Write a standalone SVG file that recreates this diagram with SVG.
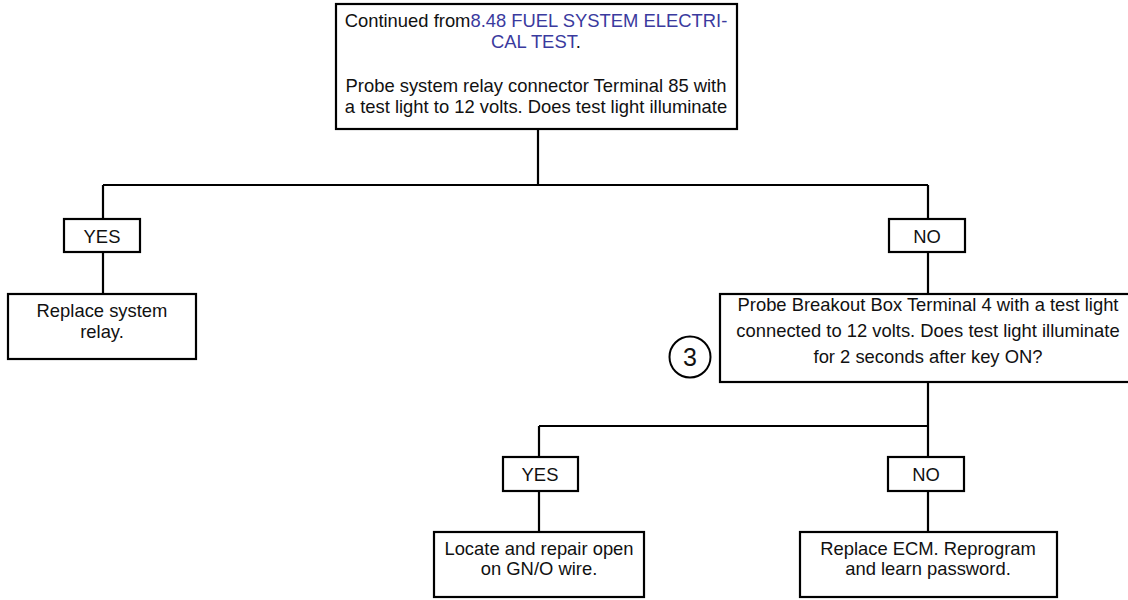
<svg xmlns="http://www.w3.org/2000/svg" width="1128" height="600" viewBox="0 0 1128 600">
  <style>
    .box { fill: #ffffff; stroke: #000000; stroke-width: 2.2; }
    .wire { fill: none; stroke: #000000; stroke-width: 2.2; }
    text { font-family: "Liberation Sans", Arial, Helvetica, sans-serif; font-size: 18.4px; fill: #111111; text-anchor: middle; }
    .link { fill: #3a3a9e; }
    .num { font-size: 25px; }
  </style>
  <rect width="1128" height="600" fill="#ffffff"/>

  <!-- connectors -->
  <g id="connectors">
    <path class="wire" d="M538 129 V185 M103 185 H928 M103 185 V219 M103 252 V294 M928 185 V219 M928 252 V294"/>
    <path class="wire" d="M928 382 V426 M539 426 H928 M539 426 V457 M539 491 V532 M928 426 V457 M928 491 V532"/>
  </g>

  <!-- start: relay terminal 85 check -->
  <g id="node-start">
    <rect class="box" x="336" y="4" width="401" height="125"/>
    <text x="536" y="27">Continued from<tspan class="link">8.48 FUEL SYSTEM ELECTRI-</tspan></text>
    <text x="536" y="48"><tspan class="link">CAL TEST</tspan>.</text>
    <text x="536" y="92">Probe system relay connector Terminal 85 with</text>
    <text x="536" y="113">a test light to 12 volts. Does test light illuminate</text>
  </g>

  <g id="node-yes1">
    <rect class="box" x="64" y="219" width="76" height="33"/>
    <text x="102" y="243">YES</text>
  </g>

  <g id="node-replace-relay">
    <rect class="box" x="8" y="294" width="188" height="65"/>
    <text x="102" y="317">Replace system</text>
    <text x="102" y="338">relay.</text>
  </g>

  <g id="node-no1">
    <rect class="box" x="889" y="219" width="76" height="33"/>
    <text x="927" y="243">NO</text>
  </g>

  <!-- step 3: breakout box terminal 4 -->
  <g id="node-breakout">
    <rect class="box" x="720" y="294" width="416" height="88"/>
    <text x="928" y="311">Probe Breakout Box Terminal 4 with a test light</text>
    <text x="928" y="337">connected to 12 volts. Does test light illuminate</text>
    <text x="928" y="363">for 2 seconds after key ON?</text>
  </g>

  <g id="step-marker">
    <circle cx="690" cy="357" r="20.5" fill="#ffffff" stroke="#000000" stroke-width="2"/>
    <text class="num" x="690" y="366">3</text>
  </g>

  <g id="node-yes2">
    <rect class="box" x="503" y="457" width="75" height="34"/>
    <text x="540" y="481">YES</text>
  </g>

  <g id="node-no2">
    <rect class="box" x="888" y="457" width="76" height="34"/>
    <text x="926" y="481">NO</text>
  </g>

  <g id="node-repair-wire">
    <rect class="box" x="434" y="532" width="210" height="65"/>
    <text x="539" y="555">Locate and repair open</text>
    <text x="539" y="575">on GN/O wire.</text>
  </g>

  <g id="node-replace-ecm">
    <rect class="box" x="800" y="532" width="257" height="65"/>
    <text x="928" y="555">Replace ECM. Reprogram</text>
    <text x="928" y="575">and learn password.</text>
  </g>
</svg>
